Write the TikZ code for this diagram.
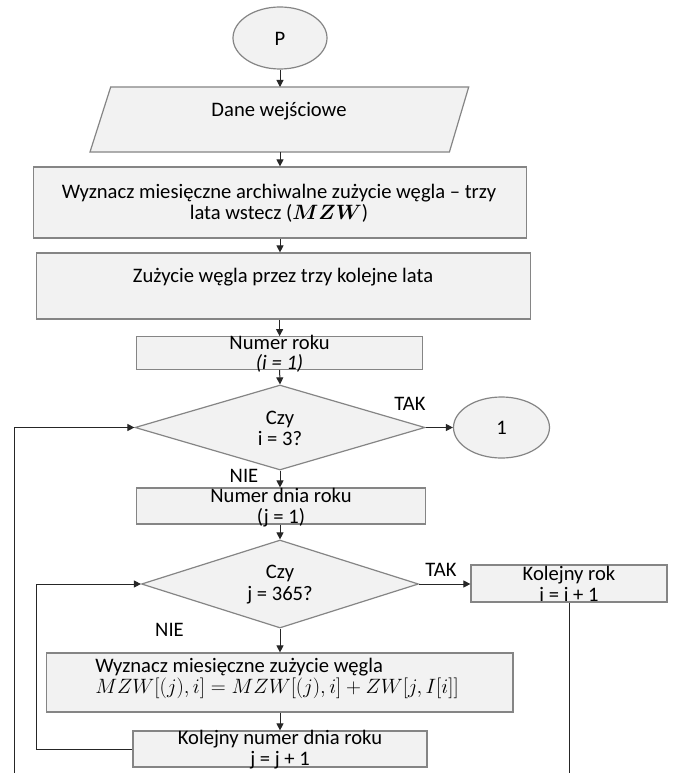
\documentclass[tikz,border=0pt]{standalone}
\usepackage{amsmath}
\usepackage{fontspec}
\setmainfont{Carlito}
\usetikzlibrary{shapes.geometric,arrows.meta}
\definecolor{boxfill}{HTML}{F2F2F2}
\definecolor{boxdraw}{HTML}{858585}
\definecolor{linec}{HTML}{262626}
\tikzset{
  shapebox/.style={draw=boxdraw, fill=boxfill, line width=1.2pt, inner sep=0pt},
  rbox/.style={shapebox, rectangle},
  obox/.style={shapebox, ellipse},
  dbox/.style={shapebox, diamond},
  txt/.style={inner sep=0pt, align=center, font=\fontsize{20.6}{20.5}\selectfont},
  conn/.style={draw=linec, line width=1pt, -{Triangle[length=7pt,width=7pt]}},
  plain/.style={draw=linec, line width=1pt},
}
\begin{document}
\begin{tikzpicture}[x=1pt,y=-1pt]
\useasboundingbox[fill=white] (0,0) rectangle (673,773);

% start
\node[obox, minimum width=94pt, minimum height=62pt] (P) at (280,38) {};
\node[txt] (Pt) at (280,39) {P};

% input parallelogram
\coordinate (partop) at (280,87);
\coordinate (parbot) at (280,152);
\draw[shapebox] (110.7,87) -- (468.7,87) -- (449.4,152) -- (90,152) -- cycle;
\node[txt] (part) at (279,111) {Dane wejściowe};

% box 1
\node[rbox, minimum width=493.6pt, minimum height=71pt] (b1) at (280,202.5) {};
\node[txt] (b1t) at (279,203.5) {Wyznacz miesięczne archiwalne zużycie węgla -- trzy\\lata wstecz ($\boldsymbol{MZW}$)};

% box 2
\node[rbox, minimum width=494pt, minimum height=66pt] (b2) at (283.5,286) {};
\node[txt] (b2t) at (283,277) {Zużycie węgla przez trzy kolejne lata};

% box 3
\node[rbox, minimum width=286pt, minimum height=32.6pt] (b3) at (279.6,353) {};
\node[txt] (b3t) at (279.6,354) {Numer roku\\\textit{(i = 1)}};

% decision 1
\node[dbox, minimum width=290pt, minimum height=85pt] (d1) at (280,427.5) {};
\node[txt] (d1t) at (280,428.5) {Czy\\[1pt]i = 3?};

% connector circle 1
\node[obox, minimum width=96pt, minimum height=61pt] (c1) at (501.5,427.5) {};
\node[txt] (c1t) at (501.5,427.5) {1};

% box 4
\node[rbox, minimum width=289pt, minimum height=36pt] (b4) at (281,506) {};
\node[txt] (b4t) at (281,507.5) {Numer dnia roku\\(j = 1)};

% decision 2
\node[dbox, minimum width=277pt, minimum height=88pt] (d2) at (280,584) {};
\node[txt] (d2t) at (280,584.5) {Czy\\[1pt]j = 365?};

% next year
\node[rbox, minimum width=196pt, minimum height=37pt] (kr) at (569,583.5) {};
\node[txt] (krt) at (569,584) {Kolejny rok\\i = i + 1};

% box 5
\node[rbox, minimum width=466.6pt, minimum height=59pt] (b5) at (279.7,682.5) {};
\node[txt, align=left] (b5t) at (277,678.5) {Wyznacz miesięczne zużycie węgla\\[1pt]$MZW[(j),i]=MZW[(j),i]+ZW[j,I[i]]$};

% box 6
\node[rbox, minimum width=294pt, minimum height=36pt] (b6) at (280,749) {};
\node[txt] (b6t) at (280,749.5) {Kolejny numer dnia roku\\j = j + 1};

% labels
\node[txt] (tak1) at (410,404) {TAK};
\node[txt] (nie1) at (244,476) {NIE};
\node[txt] (tak2) at (441,570) {TAK};
\node[txt] (nie2) at (169.5,630) {NIE};

% connectors
\draw[conn] (P.south) -- (partop);
\draw[conn] (parbot) -- (b1.north);
\draw[conn] (b1.south) -- (b1.south |- b2.north);
\draw[conn] (b2.south -| b3.north) -- (b3.north);
\draw[conn] (b3.south) -- (d1.north);
\draw[conn] (d1.east) -- (c1.west);
\draw[conn] (d1.south) -- (d1.south |- b4.north);
\draw[conn] (b4.south -| d2.north) -- (d2.north);
\draw[conn] (d2.east) -- (d2.east -| kr.west);
\draw[conn] (d2.south) -- (d2.south |- b5.north);
\draw[conn] (b5.south -| b6.north) -- (b6.north);

% inner loop
\coordinate (il) at (36,749);
\draw[conn] (b6.west) -- (il) -- (il |- d2.west) -- (d2.west);

% outer loop
\coordinate (ol) at (14,773);
\draw[conn] (ol) -- (ol |- d1.west) -- (d1.west);

% line from next year
\coordinate (krb) at (569,773);
\draw[plain] (kr.south) -- (krb);
\end{tikzpicture}
\end{document}
